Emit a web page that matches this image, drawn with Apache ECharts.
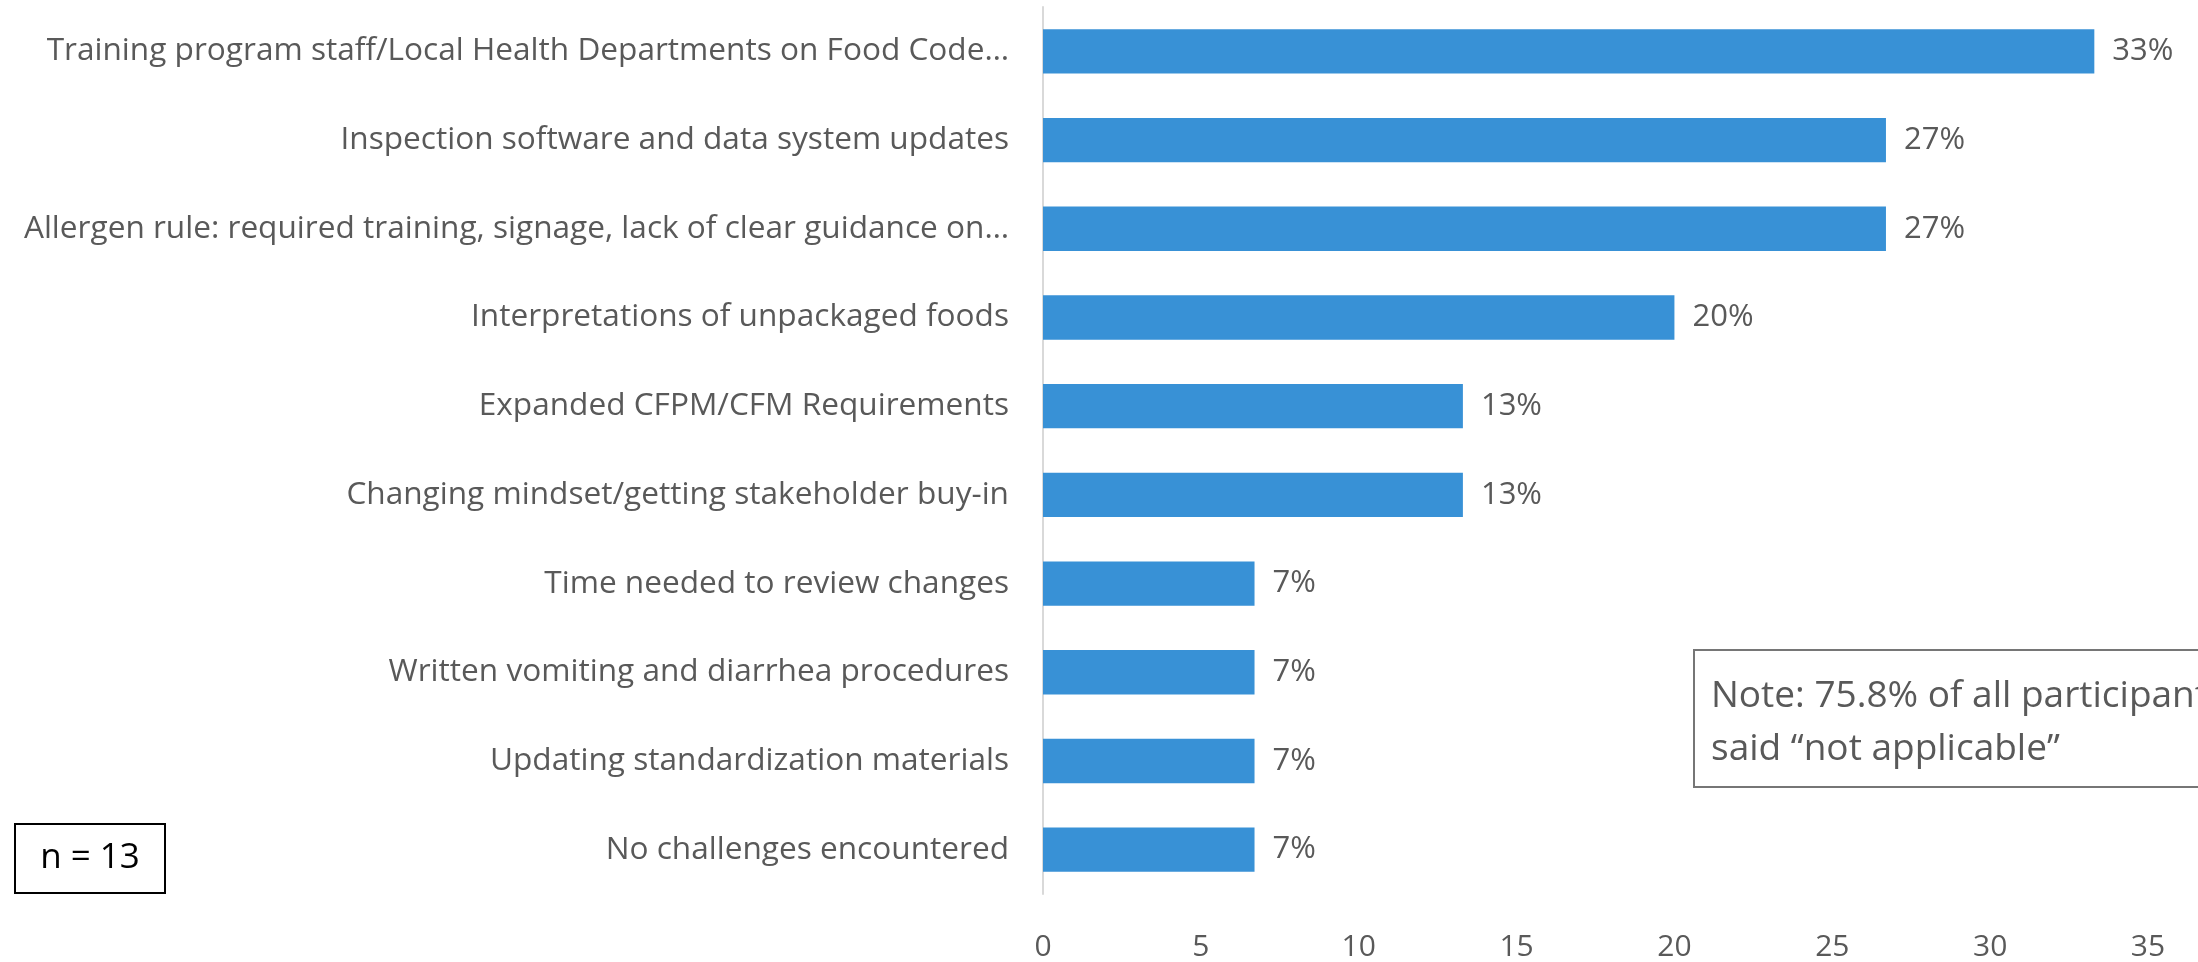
<!DOCTYPE html>
<html>
<head>
<meta charset="utf-8">
<title>Challenges</title>
<script src="https://cdn.jsdelivr.net/npm/echarts@6/dist/echarts.min.js"></script>
<style>
  html, body { margin: 0; padding: 0; background: #fff; }
  #main { width: 2198px; height: 962px; }
</style>
</head>
<body>
<div id="main"></div>
<script type="text/javascript">
// categories, top to bottom as shown
var categories = [
    'Training program staff/Local Health Departments on Food Code…',
    'Inspection software and data system updates',
    'Allergen rule: required training, signage, lack of clear guidance on…',
    'Interpretations of unpackaged foods',
    'Expanded CFPM/CFM Requirements',
    'Changing mindset/getting stakeholder buy-in',
    'Time needed to review changes',
    'Written vomiting and diarrhea procedures',
    'Updating standardization materials',
    'No challenges encountered'
];
// percent of respondents
var values = [33.3, 26.7, 26.7, 20.0, 13.3, 13.3, 6.7, 6.7, 6.7, 6.7];
var xTicks = { min: 0, max: 35, interval: 5 };
var sampleNote = 'n = 13';
var noteLines = ['Note: 75.8% of all participants', 'said \u201cnot applicable\u201d'];

var font = 'Open Sans';
var grey = '#595959';

var myChart = echarts.init(document.getElementById('main'));
myChart.setOption({
    backgroundColor: '#ffffff',
    animation: false,
    textStyle: { fontFamily: font },
    grid: {
        left: 1043,
        right: 50,
        top: 7,
        bottom: 68
    },
    xAxis: {
        type: 'value',
        min: xTicks.min,
        max: xTicks.max,
        interval: xTicks.interval,
        axisLine: { show: false },
        axisTick: { show: false },
        splitLine: { show: false },
        axisLabel: {
            color: grey,
            fontSize: 30,
            fontFamily: font,
            margin: 38
        }
    },
    yAxis: {
        type: 'category',
        inverse: true,
        data: categories,
        axisLine: { show: true, lineStyle: { color: '#d9d9d9', width: 2 } },
        axisTick: { show: false },
        axisLabel: {
            color: grey,
            fontSize: 31.6,
            fontFamily: font,
            margin: 34
        }
    },
    series: [{
        type: 'bar',
        data: values,
        barCategoryGap: '50%',
        itemStyle: { color: '#3891d6' },
        label: {
            show: true,
            position: 'right',
            distance: 18,
            color: grey,
            fontSize: 31,
            fontFamily: font,
            formatter: function (p) { return Math.round(p.value) + '%'; }
        }
    }],
    graphic: [
        {
            type: 'rect',
            left: 14, top: 823,
            shape: { width: 150, height: 69 },
            style: { fill: '#fff', stroke: '#000', lineWidth: 2 }
        },
        {
            type: 'text',
            x: 90, y: 858,
            style: { text: sampleNote, fill: '#000', font: '35px ' + font, align: 'center', verticalAlign: 'middle' }
        },
        {
            type: 'rect',
            left: 1693, top: 649,
            shape: { width: 620, height: 137 },
            style: { fill: '#fff', stroke: '#767676', lineWidth: 2 }
        },
        {
            type: 'text',
            left: 1711, top: 670,
            style: { text: noteLines.join('\n'), fill: grey, font: '37px ' + font, lineHeight: 53 }
        }
    ]
});
</script>
</body>
</html>
